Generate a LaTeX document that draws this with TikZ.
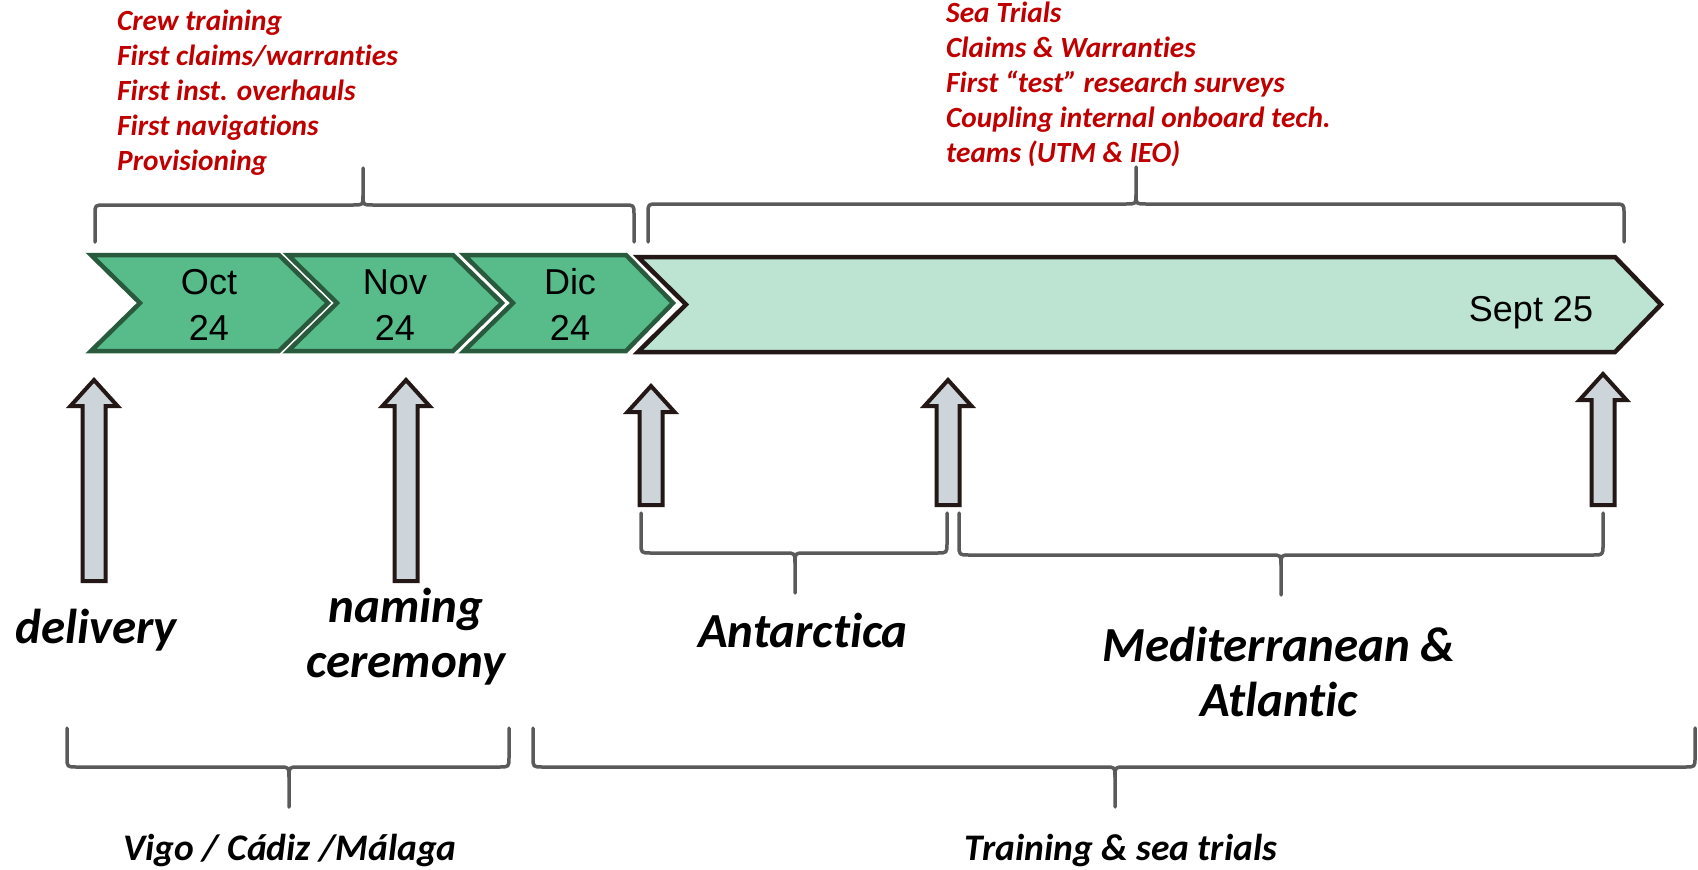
\documentclass[tikz,border=0pt]{standalone}
\usepackage{fontspec}
\setmainfont[Ligatures=NoCommon]{Carlito}
\newfontfamily\arialf{Liberation Sans}
\definecolor{braceGray}{HTML}{5A5A5A}
\definecolor{monthGreen}{HTML}{57BB8A}
\definecolor{monthEdge}{HTML}{2A5A3E}
\definecolor{lightGreen}{HTML}{BDE4D3}
\definecolor{edgeBlack}{HTML}{231815}
\definecolor{arrowGray}{HTML}{CDD5DB}
\definecolor{noteRed}{HTML}{C00000}
\newcommand{\brc}[6]{%
\draw[brace] (#1,#4) -- (#1,{#5+0.25*(#4-#5)}) .. controls (#1,#5) .. ({#1+10},#5) -- ({#3-10},#5) .. controls (#3,#5) .. (#3,{#5+0.25*(#6-#5)}) -- (#3,#6);
\draw[brace] (#3,{#5+0.25*(#6-#5)}) .. controls (#3,#5) .. ({#3+10},#5) -- ({#2-10},#5) .. controls (#2,#5) .. (#2,{#5+0.25*(#4-#5)}) -- (#2,#4);}
\newcommand{\blockup}[3]{%
\draw[blockarrow] ({#1-11.5},#3) -- ({#1-11.5},{#2+26}) -- ({#1-23.5},{#2+26}) -- (#1,#2) -- ({#1+23.5},{#2+26}) -- ({#1+11.5},{#2+26}) -- ({#1+11.5},#3) -- cycle;}
\begin{document}
\begin{tikzpicture}[x=1pt,y=-1pt,
  brace/.style={draw=braceGray,line width=3.5pt,line cap=round,line join=round},
  monthshape/.style={fill=monthGreen,draw=monthEdge,line width=4.5pt,line join=miter},
  bigshape/.style={fill=lightGreen,draw=edgeBlack,line width=4.5pt,line join=miter},
  blockarrow/.style={fill=arrowGray,draw=edgeBlack,line width=4pt,line join=miter},
  note/.style={text=noteRed,font=\fontsize{29.3}{35}\selectfont\bfseries\itshape,align=left,inner sep=0pt,anchor=base west},
  place/.style={font=\fontsize{49}{55}\selectfont\bfseries\itshape,align=center,inner sep=0pt,anchor=base},
  region/.style={font=\fontsize{37.5}{40}\selectfont\bfseries\itshape,inner sep=0pt,anchor=base},
  monthtext/.style={font=\arialf\fontsize{36}{46}\selectfont,align=center,inner sep=0pt,anchor=base}]
\useasboundingbox (0,0) rectangle (1698,870);
% top notes (anchor = baseline of the last line)
\node[note] (n1) at (117,170) {Crew training\\First claims/warranties\\First inst. overhauls\\First navigations\\Provisioning};
\node[note] (n2) at (946,162) {Sea Trials\\Claims \& Warranties\\First “test” research surveys\\Coupling internal onboard tech.\\teams (UTM \& IEO)};
% top braces
\brc{95}{634}{363}{242}{205}{168}
\brc{648}{1624}{1136}{242}{204}{167}
% chevrons
\draw[monthshape] (91,255) -- (279,255) -- (328,303) -- (279,351) -- (91,351) -- (140,303) -- cycle;
\draw[monthshape] (288,255) -- (453,255) -- (502,303) -- (453,351) -- (288,351) -- (337,303) -- cycle;
\draw[monthshape] (464,255) -- (626,255) -- (673,303) -- (626,351) -- (464,351) -- (513,303) -- cycle;
\draw[bigshape] (638,257) -- (1615,257) -- (1661,304.5) -- (1615,352) -- (638,352) -- (686,304.5) -- cycle;
\node[monthtext] (oct) at (209,340) {Oct\\24};
\node[monthtext] (nov) at (395,340) {Nov\\24};
\node[monthtext] (dic) at (570,340) {Dic\\24};
\node[monthtext] (sep) at (1531,321) {Sept 25};
% block arrows
\blockup{94}{380}{581}
\blockup{406}{380}{581}
\blockup{651}{386}{505}
\blockup{948}{380}{505}
\blockup{1603}{374}{505}
% middle braces
\brc{641}{947}{795}{513}{553}{593}
\brc{959}{1603}{1281}{513}{555}{595}
% labels
\node[place] (delivery) at (96,643) {delivery};
\node[place] (naming) at (406,677) {naming\\ceremony};
\node[place] (antarctica) at (803,647) {Antarctica};
\node[place] (med) at (1279,716) {Mediterranean \&\\Atlantic};
% bottom braces
\brc{67}{509}{289}{728}{767}{807}
\brc{533}{1695}{1115}{728}{767}{807}
\node[region] (vigo) at (290,860) {Vigo / Cádiz /Málaga};
\node[region] (training) at (1121,860) {Training \& sea trials};
\end{tikzpicture}
\end{document}
